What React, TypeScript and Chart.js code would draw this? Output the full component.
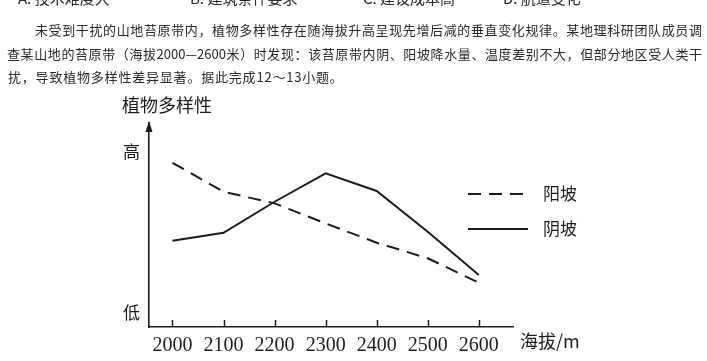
import React, { useEffect, useRef } from 'react';
import { Chart, registerables } from 'chart.js';

Chart.register(...registerables);

// ---- data ----
const altitudes = [2000, 2100, 2200, 2300, 2400, 2500, 2600];
const sunnySlope = [8.05, 6.63, 6.06, 5.08, 4.13, 3.37, 2.17]; // 阳坡
const shadySlope = [4.23, 4.62, 6.14, 7.53, 6.67, 4.67, 2.55]; // 阴坡
const seriesNames = ['阳坡', '阴坡'];
const yTickValues = [0.69, 8.58];
const yTickLabels = ['低', '高'];
const yAxisTitle = '植物多样性';
const xAxisTitle = '海拔/m';

const optionLabels = ['A. 技术难度大', 'B. 建筑条件要求', 'C. 建设成本高', 'D. 航道变化'];
const passageLines = [
  '未受到干扰的山地苔原带内，植物多样性存在随海拔升高呈现先增后减的垂直变化规律。某地理科研团队成员调',
  '查某山地的苔原带（海拔2000—2600米）时发现：该苔原带内阴、阳坡降水量、温度差别不大，但部分地区受人类干',
  '扰，导致植物多样性差异显著。据此完成12～13小题。',
];

const INK = '#1c1c1c';
const CJK = '"Noto Sans CJK SC", "Noto Sans CJK JP", sans-serif';

const decorPlugin = {
  id: 'decor',
  afterDraw(chart: any) {
    const { ctx, chartArea } = chart;
    const xs = chart.scales.x;
    ctx.save();
    // y-axis arrow
    const ax = chartArea.left;
    ctx.fillStyle = INK;
    ctx.beginPath();
    ctx.moveTo(ax, chartArea.top - 2);
    ctx.lineTo(ax - 3.5, chartArea.top + 9);
    ctx.lineTo(ax + 3.5, chartArea.top + 9);
    ctx.closePath();
    ctx.fill();
    // upward tick marks on x axis
    ctx.strokeStyle = INK;
    ctx.lineWidth = 1.5;
    altitudes.forEach((v) => {
      const px = Math.round(xs.getPixelForValue(v)) + 0.5;
      ctx.beginPath();
      ctx.moveTo(px, chartArea.bottom);
      ctx.lineTo(px, chartArea.bottom - 7);
      ctx.stroke();
    });
    // axis titles
    ctx.font = `18px ${CJK}`;
    ctx.textBaseline = 'middle';
    ctx.textAlign = 'left';
    ctx.fillText(yAxisTitle, chartArea.left - 27, chartArea.top - 18);
    ctx.fillText(xAxisTitle, chartArea.right + 7, chartArea.bottom + 14);
    // legend
    ctx.font = `17px ${CJK}`;
    chart.data.datasets.forEach((ds: any, i: number) => {
      const ly = chartArea.top + 71 + i * 35;
      ctx.setLineDash(ds.borderDash || []);
      ctx.lineWidth = ds.borderWidth;
      ctx.strokeStyle = ds.borderColor;
      ctx.beginPath();
      ctx.moveTo(chartArea.right - 45, ly);
      ctx.lineTo(chartArea.right + 15, ly);
      ctx.stroke();
      ctx.setLineDash([]);
      ctx.fillText(ds.label, chartArea.right + 30, ly);
    });
    ctx.restore();
  },
};

export default function App() {
  const ref = useRef<HTMLCanvasElement>(null);

  useEffect(() => {
    document.body.style.margin = '0';
    const chart = new Chart(ref.current as HTMLCanvasElement, {
      type: 'line',
      data: {
        datasets: [
          {
            label: seriesNames[0],
            data: altitudes.map((a, i) => ({ x: a, y: sunnySlope[i] })),
            borderColor: INK,
            borderWidth: 2,
            borderDash: [13, 8],
            pointRadius: 0,
            tension: 0,
            fill: false,
          },
          {
            label: seriesNames[1],
            data: altitudes.map((a, i) => ({ x: a, y: shadySlope[i] })),
            borderColor: INK,
            borderWidth: 2,
            pointRadius: 0,
            tension: 0,
            fill: false,
          },
        ],
      },
      options: {
        responsive: false,
        animation: false,
        devicePixelRatio: 1,
        layout: { padding: { left: 0, top: 123, right: 194, bottom: 0 } },
        plugins: {
          legend: { display: false },
          tooltip: { enabled: false },
          title: { display: false },
        },
        scales: {
          x: {
            type: 'linear',
            min: 1954,
            max: 2667,
            afterBuildTicks: (s: any) => {
              s.ticks = altitudes.map((v) => ({ value: v }));
            },
            afterFit: (s: any) => {
              s.height = 34;
            },
            grid: { display: false, drawTicks: false },
            border: { display: true, color: INK, width: 1.6 },
            ticks: {
              padding: 7,
              color: INK,
              autoSkip: false,
              maxRotation: 0,
              font: { family: '"Liberation Serif", serif', size: 20 },
              callback: (v: any) => String(v),
            },
          },
          y: {
            type: 'linear',
            min: 0,
            max: 10,
            afterBuildTicks: (s: any) => {
              s.ticks = yTickValues.map((v) => ({ value: v }));
            },
            afterFit: (s: any) => {
              s.width = 149;
            },
            grid: { display: false, drawTicks: false },
            border: { display: true, color: INK, width: 1.6 },
            ticks: {
              padding: 9,
              color: INK,
              autoSkip: false,
              font: { family: CJK, size: 17 },
              callback: (_v: any, i: number) => yTickLabels[i] ?? '',
            },
          },
        },
      },
      plugins: [decorPlugin],
    } as any);
    return () => chart.destroy();
  }, []);

  const optionX = [18, 190, 363, 503];
  const lineBase: React.CSSProperties = {
    position: 'absolute',
    fontFamily: CJK,
    fontSize: 13,
    lineHeight: '20px',
    color: '#2a2a2a',
  };

  return (
    <div
      style={{
        position: 'absolute',
        left: 0,
        top: 0,
        width: 707,
        height: 361,
        overflow: 'hidden',
        background: '#fff',
      }}
    >
      <canvas
        ref={ref}
        width={707}
        height={361}
        style={{ position: 'absolute', left: 0, top: 0, width: 707, height: 361 }}
      />
      {optionLabels.map((t, i) => (
        <div
          key={t}
          style={{ ...lineBase, left: optionX[i], top: -12, fontSize: 15, whiteSpace: 'nowrap' }}
        >
          {t}
        </div>
      ))}
      <div style={{ ...lineBase, left: 35, top: 20, width: 667, textAlign: 'justify', textAlignLast: 'justify' }}>
        {passageLines[0]}
      </div>
      <div style={{ ...lineBase, left: 7, top: 44, width: 695, textAlign: 'justify', textAlignLast: 'justify' }}>
        {passageLines[1]}
      </div>
      <div style={{ ...lineBase, left: 8, top: 67, letterSpacing: 0.8, whiteSpace: 'nowrap' }}>
        {passageLines[2]}
      </div>
    </div>
  );
}
